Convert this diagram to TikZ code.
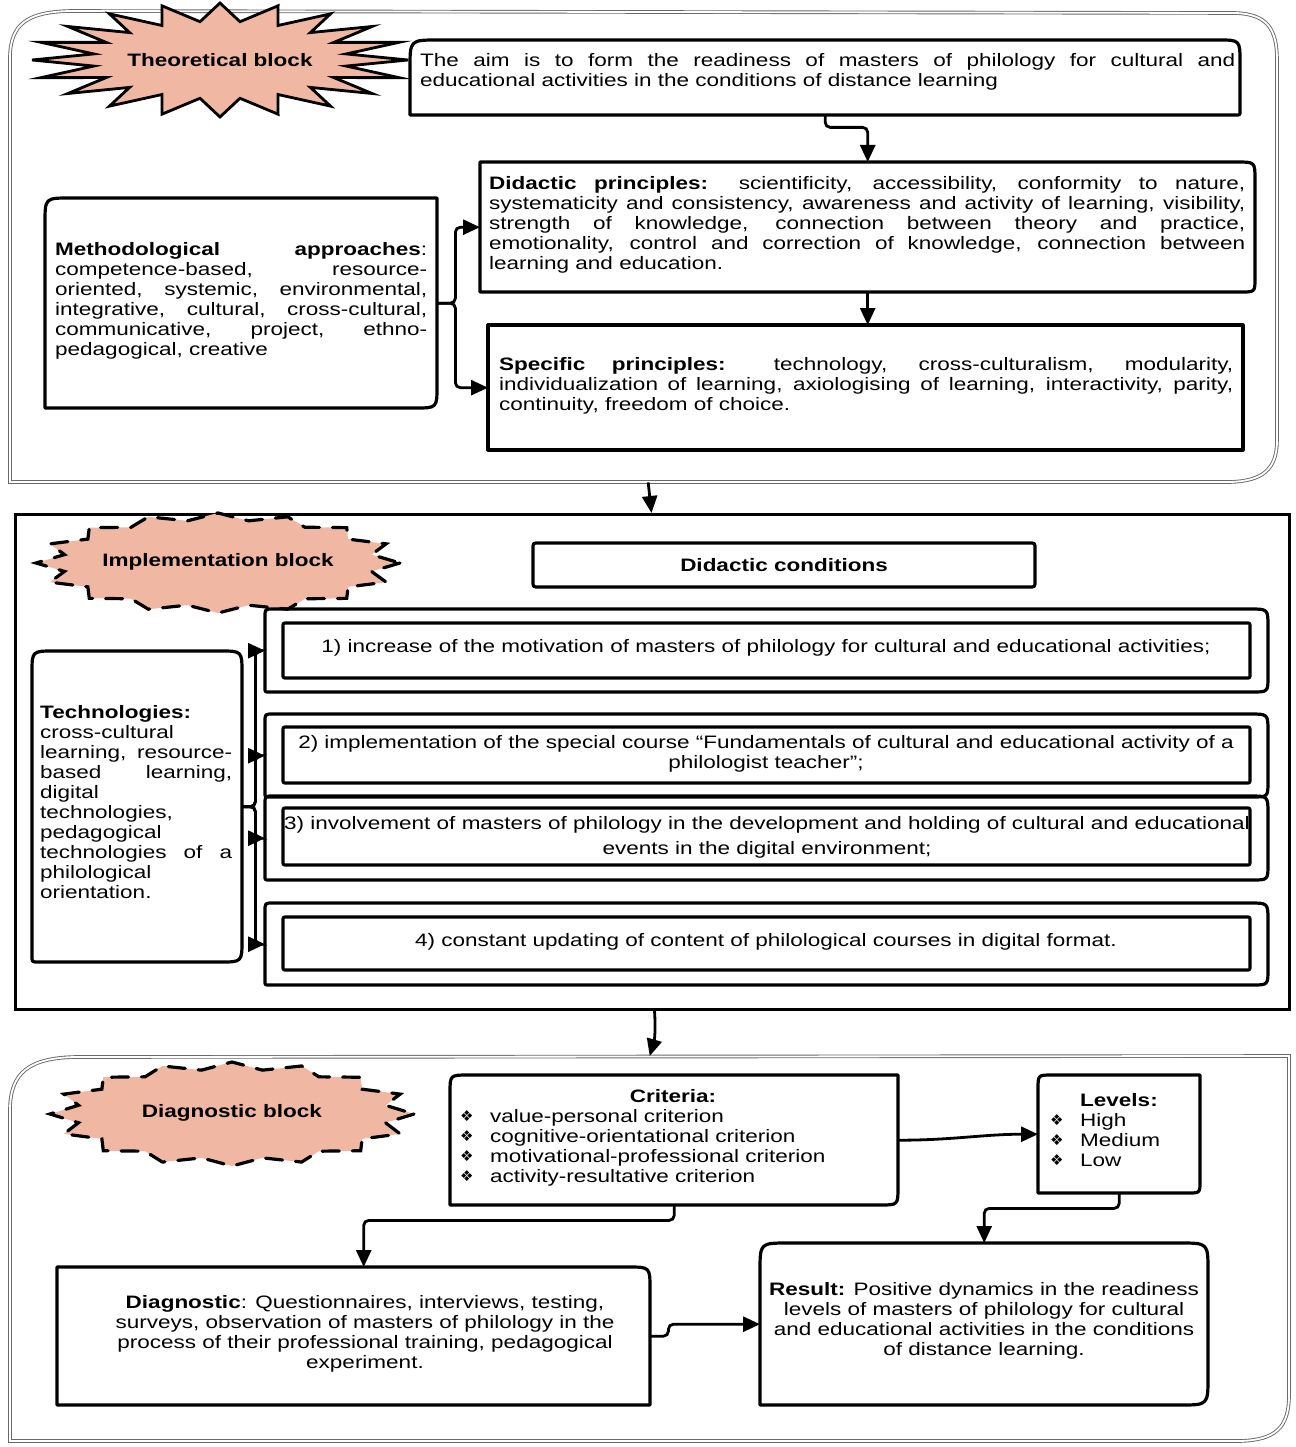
\documentclass[tikz,border=0pt]{standalone}
\usepackage{fontspec}
\setmainfont{Liberation Sans}[FakeStretch=1.25]
\newfontfamily\symfont{DejaVu Sans}
\usetikzlibrary{arrows.meta,calc}
\definecolor{burst}{RGB}{240,183,163}
\definecolor{framegray}{RGB}{105,105,105}

\tikzset{
  boxline/.style={line width=3.2pt, line join=round},
  frame/.style={draw=framegray, line width=0.9pt, double=white, double distance=1.8pt},
  conn/.style={line width=2.8pt, -{Triangle[length=17pt,width=15pt]}, rounded corners=5pt},
  txt/.style={inner sep=0pt, anchor=north west, align=left, font=\fontsize{18}{20}\selectfont},
  ctxt/.style={inner sep=0pt, anchor=north, align=center, font=\fontsize{18}{20}\selectfont},
  lbl/.style={inner sep=0pt, font=\bfseries\fontsize{18}{20}\selectfont},
  burstA/.style={fill=burst, draw=black, line width=2.8pt, line join=miter},
  burstB/.style={fill=burst, draw=black, line width=3.2pt, line cap=round, dash pattern=on 17pt off 13pt},
}

% hand-drawn style box: name, x1, y1(top), x2, y2(bottom), rTL, rTR, rBR, rBL
\newcommand\hbx[9]{%
  \draw[boxline] (#2,#3+#6) .. controls (#2,#3) .. (#2+#6,#3) -- (#4-#7,#3)
     .. controls (#4,#3) .. (#4,#3+#7) -- (#4,#5-#8) .. controls (#4,#5) .. (#4-#8,#5)
     -- (#2+#9,#5) .. controls (#2,#5) .. (#2,#5-#9) -- cycle;
  \node[anchor=north west, inner sep=0pt, minimum width={(#4-#2)*1pt},
        minimum height={(#5-#3)*1pt}] (#1) at (#2,#3) {};
}
% star burst: cx, cy, rx, ry, spikes, inner ratio, style
\newcommand\burstshape[7]{%
  \pgfmathtruncatemacro\nnpts{2*#5-1}%
  \path[#7] (#1+#3,#2) \foreach \k in {1,...,\nnpts} {
     -- ({#1+#3*(1-(1-#6)*mod(\k,2))*cos(\k*180/#5)},{#2+#4*(1-(1-#6)*mod(\k,2))*sin(\k*180/#5)}) } -- cycle;
}
\newcommand\bul{\makebox[30pt][l]{\raisebox{1pt}{\symfont\fontsize{15}{20}\selectfont ❖}}}

\begin{document}
\begin{tikzpicture}[x=1pt,y=-1pt]
\useasboundingbox (0,0) rectangle (1295,1447);

% ---------- block frames ----------
\draw[frame] (10,482) -- (10,58) .. controls (10,22) and (30,12) .. (70,11) -- (1235,13)
   .. controls (1268,14) and (1277,30) .. (1277,60) -- (1277,440)
   .. controls (1277,470) and (1262,481) .. (1230,482) -- cycle;
\node[anchor=north west, inner sep=0pt, minimum width=1268pt, minimum height=471pt] (blk1) at (10,11) {};

\node[draw, line width=3pt, anchor=north west, inner sep=0pt, minimum width=1274pt, minimum height=495pt] (blk2) at (14,513) {};

\draw[frame] (10,1441) -- (10,1110) .. controls (10,1072) and (30,1058) .. (75,1057) -- (1289,1056)
   -- (1289,1395) .. controls (1289,1428) and (1275,1440) .. (1240,1441) -- cycle;
\node[anchor=north west, inner sep=0pt, minimum width=1279pt, minimum height=385pt] (blk3) at (10,1056) {};

% ---------- bursts ----------
\burstshape{220}{60}{188}{57}{20}{0.68}{burstA}
\node[lbl] (lblT) at (220,60) {Theoretical block};
\burstshape{218}{563}{182}{50}{16}{0.86}{burstB}
\node[lbl] (lblI) at (218,562) {Implementation block};
\burstshape{232}{1114}{182}{52}{16}{0.86}{burstB}
\node[lbl] (lblD) at (232,1113) {Diagnostic block};

% ---------- theoretical block ----------
\hbx{aim}{410}{40}{1240}{115}{28}{22}{4}{0}
\node[txt] (aimt) at (420,53) {\makebox[815pt][s]{The aim is to form the readiness of masters of philology for cultural and}\\
  educational activities in the conditions of distance learning};

\hbx{didp}{480}{162}{1255}{292}{0}{18}{14}{0}
\node[txt] (didpt) at (489,176.5) {\makebox[756pt][s]{\textbf{Didactic principles:} scientificity, accessibility, conformity to nature,}\\
  \makebox[756pt][s]{systematicity and consistency, awareness and activity of learning, visibility,}\\
  \makebox[756pt][s]{strength of knowledge, connection between theory and practice,}\\
  \makebox[756pt][s]{emotionality, control and correction of knowledge, connection between}\\
  learning and education.};

\hbx{specp}{488}{325}{1243}{450}{0}{0}{0}{0}
\node[txt] (specpt) at (499,357.5) {\makebox[734pt][s]{\textbf{Specific principles:} technology, cross-culturalism, modularity,}\\
  \makebox[734pt][s]{individualization of learning, axiologising of learning, interactivity, parity,}\\
  continuity, freedom of choice.};

\hbx{meth}{45}{198}{437}{408}{25}{0}{22}{0}
\node[txt] (metht) at (55,242.5) {\makebox[372pt][s]{\textbf{Methodological} \textbf{approaches}:}\\
  \makebox[372pt][s]{competence-based, resource-}\\
  \makebox[372pt][s]{oriented, systemic, environmental,}\\
  \makebox[372pt][s]{integrative, cultural, cross-cultural,}\\
  \makebox[372pt][s]{communicative, project, ethno-}\\
  pedagogical, creative};

\draw[conn] (aim.south) -- ++(0,12) -| (didp.north);
\draw[conn] (didp.south) -- (didp.south |- specp.north);
\draw[conn] (meth.east) -- ++(18,0) |- (didp.west);
\draw[conn] (meth.east) -- ++(18,0) |- (specp.west);

\draw[conn] ([xshift=4pt]blk1.south) -- ([xshift=-1pt]blk2.north);

% ---------- implementation block ----------
\hbx{cond}{533}{543}{1035}{587}{6}{6}{6}{6}
\node[lbl] (condt) at (784,565) {Didactic conditions};

\hbx{c1o}{265}{609}{1268}{692}{8}{18}{16}{4}
\hbx{c1i}{283}{623}{1250}{678}{4}{4}{4}{4}
\node[ctxt] (c1t) at (766,639.5) {1) increase of the motivation of masters of philology for cultural and educational activities;};

\hbx{c2o}{265}{714}{1268}{797}{8}{18}{16}{4}
\hbx{c2i}{283}{727}{1250}{783}{4}{4}{4}{4}
\node[ctxt] (c2t) at (766,735.5) {2) implementation of the special course “Fundamentals of cultural and educational activity of a\\ philologist teacher”;};

\hbx{c3o}{265}{796}{1268}{880}{8}{18}{16}{4}
\hbx{c3i}{283}{808}{1250}{865}{4}{4}{4}{4}
\node[ctxt] (c3t) at (767,816.5) {3) involvement of masters of philology in the development and holding of cultural and educational\\[5pt] events in the digital environment;};

\hbx{c4o}{265}{903}{1268}{985}{8}{18}{16}{4}
\hbx{c4i}{283}{917}{1250}{970}{4}{4}{4}{4}
\node[ctxt] (c4t) at (766,933.5) {4) constant updating of content of philological courses in digital format.};

\hbx{tech}{32}{651}{242}{962}{22}{22}{22}{6}
\node[txt] (techt) at (40,705.5) {\textbf{Technologies:}\\
  cross-cultural\\
  \makebox[192pt][s]{learning, resource-}\\
  \makebox[192pt][s]{based learning,}\\
  digital\\
  technologies,\\
  pedagogical\\
  \makebox[192pt][s]{technologies of a}\\
  philological\\
  orientation.};

\draw[conn] (tech.east) -- ++(13,0) |- (c1o.west);
\draw[conn] (tech.east) -- ++(13,0) |- (c2o.west);
\draw[conn] (tech.east) -- ++(13,0) |- (c3o.west);
\draw[conn] (tech.east) -- ++(13,0) |- (c4o.west);

\draw[conn] ([xshift=2pt]blk2.south) to[bend left=10] (blk3.north);

% ---------- diagnostic block ----------
\hbx{crit}{450}{1075}{898}{1205}{18}{0}{18}{0}
\node[ctxt] (critt) at (673,1089.5) {\textbf{Criteria:}};
\node[txt] (critl) at (460,1109.5) {\bul value-personal criterion\\
  \bul cognitive-orientational criterion\\
  \bul motivational-professional criterion\\
  \bul activity-resultative criterion};

\hbx{lev}{1038}{1075}{1200}{1193}{14}{0}{12}{0}
\node[txt] (levt) at (1080,1093.5) {\textbf{Levels:}};
\node[txt] (levl) at (1050,1113.5) {\bul High\\ \bul Medium\\ \bul Low};

\hbx{diag}{57}{1267}{650}{1405}{0}{22}{0}{0}
\node[ctxt] (diagt) at (365,1295.5) {\textbf{Diagnostic}: Questionnaires, interviews, testing,\\
  surveys, observation of masters of philology in the\\
  process of their professional training, pedagogical\\
  experiment.};

\hbx{res}{760}{1243}{1208}{1405}{28}{28}{28}{0}
\node[ctxt] (rest) at (984,1282.5) {\textbf{Result:} Positive dynamics in the readiness\\
  levels of masters of philology for cultural\\
  and educational activities in the conditions\\
  of distance learning.};

\draw[conn] (crit.east) to[out=0,in=180] (lev.west);
\draw[conn] (crit.south) -- ++(0,15) -| ([xshift=10pt]diag.north);
\draw[conn] (lev.south) -- ++(0,15) -| (res.north);
\draw[conn] (diag.east) -- ++(18,0) |- (res.west);
\end{tikzpicture}
\end{document}
